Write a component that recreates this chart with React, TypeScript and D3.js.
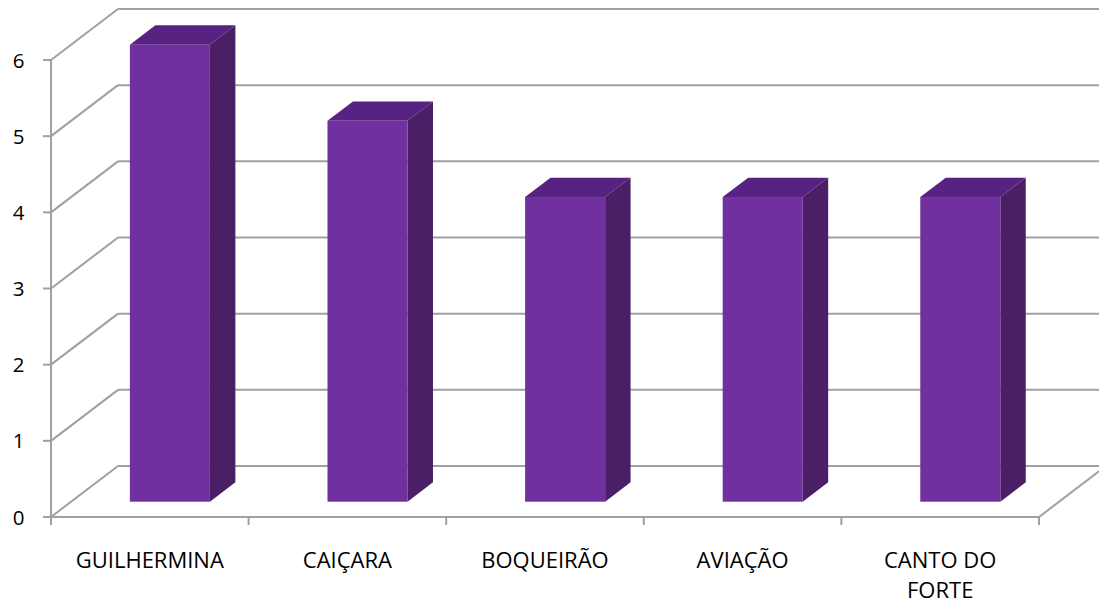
import React from "react";
import * as d3 from "d3";

const categories: string[][] = [["GUILHERMINA"], ["CAIÇARA"], ["BOQUEIRÃO"], ["AVIAÇÃO"], ["CANTO DO", "FORTE"]];
const values: number[] = [6, 5, 4, 4, 4];
const yTicks: number[] = [0, 1, 2, 3, 4, 5, 6];

const W = 1099;
const H = 607;
const DX = 67;
const DY = -51;
const GRID = "#A0A0A0";
const FONT = "Open Sans, Liberation Sans, sans-serif";

export default function App() {
  const x = d3
    .scaleBand<number>()
    .domain(categories.map((_, i) => i))
    .range([51, 1039])
    .paddingInner(0)
    .paddingOuter(0);
  const y = d3.scaleLinear().domain([0, 6]).range([517, 60]);

  const bw = x.bandwidth();
  const barW = bw * 0.405;
  const zf = 0.3;
  const zb = 0.68;

  const bars = values.map((v, i) => {
    const cx = (x(i) as number) + bw / 2;
    const fx0 = cx - barW / 2 + DX * zf;
    const fx1 = cx + barW / 2 + DX * zf;
    const fyTop = y(v) + DY * zf;
    const fyBot = y(0) + DY * zf;
    const ddx = DX * (zb - zf);
    const ddy = DY * (zb - zf);
    return (
      <g key={i}>
        <polygon
          points={`${fx0},${fyTop} ${fx0 + ddx},${fyTop + ddy} ${fx1 + ddx},${fyTop + ddy} ${fx1},${fyTop}`}
          fill="#582282"
        />
        <polygon
          points={`${fx1},${fyTop} ${fx1 + ddx},${fyTop + ddy} ${fx1 + ddx},${fyBot + ddy} ${fx1},${fyBot}`}
          fill="#4A1F66"
        />
        <rect x={fx0} y={fyTop} width={fx1 - fx0} height={fyBot - fyTop} fill="#7030A0" />
      </g>
    );
  });

  const x0 = x.range()[0];
  const x1 = x.range()[1];

  return (
    <svg width={W} height={H} style={{ position: "absolute", left: 0, top: 0, background: "#fff" }}>
      {yTicks.map((t) => (
        <g key={t}>
          <line x1={x0 + DX} y1={y(t) + DY} x2={W + 20} y2={y(t) + DY} stroke={GRID} strokeWidth={2} />
          <line x1={x0} y1={y(t)} x2={x0 + DX} y2={y(t) + DY} stroke={GRID} strokeWidth={2} />
        </g>
      ))}
      <line x1={x1} y1={y(0)} x2={x1 + DX} y2={y(0) + DY} stroke={GRID} strokeWidth={2} />
      <line x1={x0} y1={y(0)} x2={x1} y2={y(0)} stroke={GRID} strokeWidth={2} />
      <line x1={x0} y1={y(6)} x2={x0} y2={y(0) + 8} stroke={GRID} strokeWidth={2} />
      {yTicks.map((t) => (
        <g key={"yt" + t}>
          <line x1={x0 - 8} y1={y(t)} x2={x0} y2={y(t)} stroke={GRID} strokeWidth={2} />
          <text x={18.5} y={y(t) + 7.5} textAnchor="middle" fontFamily={FONT} fontSize={20.5} fill="#000">
            {t}
          </text>
        </g>
      ))}
      {categories.map((_, i) => (
        <line key={"xt" + i} x1={(x(i) as number) + bw} y1={y(0)} x2={(x(i) as number) + bw} y2={y(0) + 8} stroke={GRID} strokeWidth={2} />
      ))}
      {bars}
      {categories.map((lines, i) => (
        <text key={"xl" + i} x={(x(i) as number) + bw / 2} y={568} textAnchor="middle" fontFamily={FONT} fontSize={22} fill="#000">
          {lines.map((l, j) => (
            <tspan key={j} x={(x(i) as number) + bw / 2} dy={j === 0 ? 0 : 30}>
              {l}
            </tspan>
          ))}
        </text>
      ))}
    </svg>
  );
}
